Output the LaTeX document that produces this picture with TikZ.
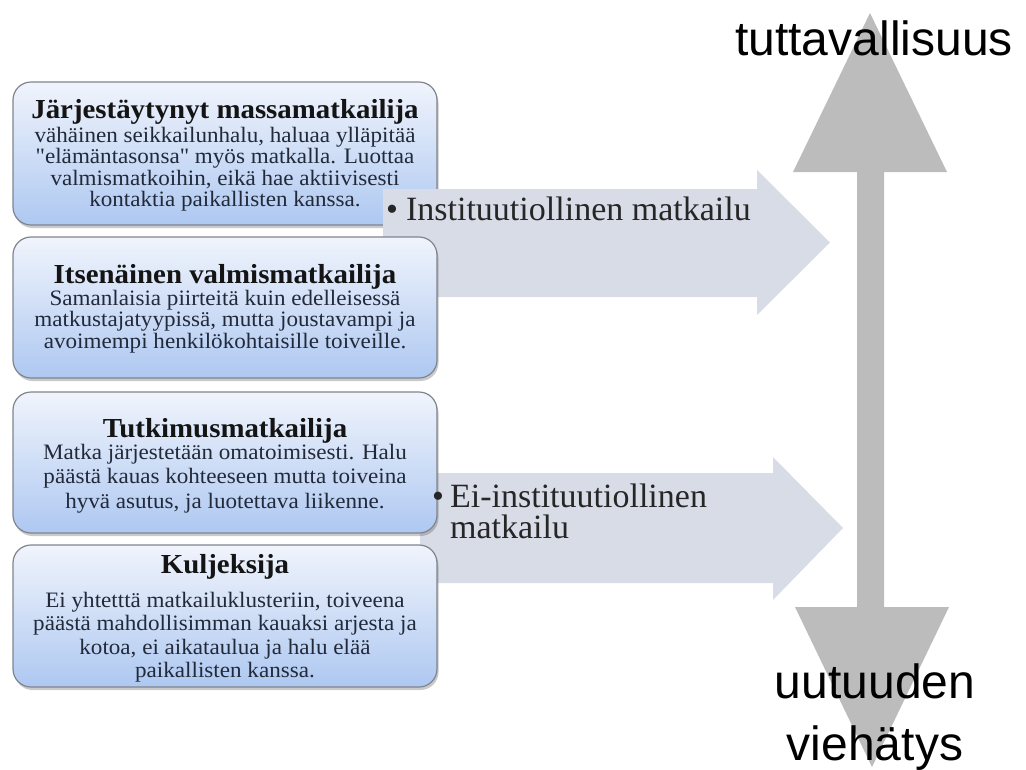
\documentclass[tikz,border=0pt]{standalone}
\usepackage{fontspec}
\setmainfont{Liberation Serif}
\newfontfamily\boxfont[FakeStretch=1.05]{Liberation Serif}
\newfontfamily\ttlfont[FakeStretch=1.05]{Liberation Serif Bold}
\newfontfamily\sansfont{Liberation Sans}
\usetikzlibrary{shadows}
\definecolor{arrowgray}{HTML}{D7DCE7}
\definecolor{vgray}{HTML}{BCBCBC}
\definecolor{boxtop}{HTML}{F0F4FC}
\definecolor{boxbot}{HTML}{AEC8F1}
\definecolor{boxborder}{HTML}{80848C}
\definecolor{bodycol}{HTML}{222A3A}
\definecolor{titlecol}{HTML}{141414}
\definecolor{lblcol}{HTML}{262626}
\newcommand{\cl}[1]{\hbox to 0pt{\hss#1\hss}}
\tikzset{
  tbox/.style={draw=boxborder, line width=1.2pt, rounded corners=18pt,
    top color=boxtop, bottom color=boxbot, minimum width=424pt, inner sep=0pt,
    drop shadow={shadow xshift=1.5pt, shadow yshift=-3pt, opacity=0.35, fill=black!60}},
  ttl/.style={anchor=base, inner sep=0pt, text=titlecol, font=\ttlfont\fontsize{27.5}{30}\selectfont},
  bdy/.style={anchor=base, inner sep=0pt, text=bodycol},
  lbl/.style={anchor=base west, inner sep=0pt, text=lblcol},
  sns/.style={anchor=base, inner sep=0pt, text=black, font=\sansfont\fontsize{48}{62}\selectfont},
  harrow/.style={fill=arrowgray},
  varrow/.style={fill=vgray}
}
\begin{document}
\begin{tikzpicture}[x=1pt,y=-1pt]
\useasboundingbox (0,0) rectangle (1026,769);
% vertical double arrow
\fill[varrow] (870,13) -- (947,172) -- (884,172) -- (884,607) -- (949,607) -- (872,767)
  -- (795,607) -- (857,607) -- (857,172) -- (793,172) -- cycle;
\node[sns] (top) at (874,55) {tuttavallisuus};
\node[sns] (bot) at (875,698) {\vtop{\cl{uutuuden}\cl{viehätys}}};

% box 1
\node[tbox, minimum height=143pt] (b1) at (225,153.5) {};
\node[ttl] (t1) at (225,118) {Järjestäytynyt massamatkailija};
\node[bdy] (d1) at (225,142) {\boxfont\fontsize{22}{21.5}\selectfont\vtop{%
  \cl{vähäinen seikkailunhalu, haluaa ylläpitää}%
  \cl{"elämäntasonsa" myös matkalla. Luottaa}%
  \cl{valmismatkoihin, eikä hae aktiivisesti}%
  \cl{kontaktia paikallisten kanssa.}}};

% arrow 1
\fill[harrow] (383,189) -- (757,189) -- (757,170) -- (830,242.5) -- (757,315) -- (757,297) -- (383,297) -- cycle;

% box 2
\node[tbox, minimum height=141pt] (b2) at (225,307.5) {};
\node[ttl] (t2) at (225,283) {Itsenäinen valmismatkailija};
\node[bdy] (d2) at (225,305) {\boxfont\fontsize{22}{21.5}\selectfont\vtop{%
  \cl{Samanlaisia piirteitä kuin edelleisessä}%
  \cl{matkustajatyypissä, mutta joustavampi ja}%
  \cl{avoimempi henkilökohtaisille toiveille.}}};

\node[lbl, font=\fontsize{34}{36}\selectfont] (l1) at (386,220) {\textbullet\hspace{8pt}Instituutiollinen matkailu};

% arrow 2
\fill[harrow] (420,473) -- (773,473) -- (773,457) -- (843,528) -- (773,600) -- (773,583) -- (420,583) -- cycle;

% box 3
\node[tbox, minimum height=141pt] (b3) at (225,462.5) {};
\node[ttl] (t3) at (225,437) {Tutkimusmatkailija};
\node[bdy] (d3) at (225,459) {\boxfont\fontsize{22}{24.5}\selectfont\vtop{%
  \cl{Matka järjestetään omatoimisesti. Halu}%
  \cl{päästä kauas kohteeseen mutta toiveina}%
  \cl{hyvä asutus, ja luotettava liikenne.}}};

% box 4
\node[tbox, minimum height=142pt] (b4) at (225,616) {};
\node[ttl] (t4) at (225,573) {Kuljeksija};
\node[bdy] (d4) at (225,607) {\boxfont\fontsize{22}{23.5}\selectfont\vtop{%
  \cl{Ei yhtetttä matkailuklusteriin, toiveena}%
  \cl{päästä mahdollisimman kauaksi arjesta ja}%
  \cl{kotoa, ei aikataulua ja halu elää}%
  \cl{paikallisten kanssa.}}};

\node[lbl, font=\fontsize{34}{31}\selectfont] (l2) at (432,507) {\vtop{%
  \hbox{\textbullet\hspace{6pt}Ei-instituutiollinen}%
  \hbox{\hphantom{\textbullet}\hspace{6pt}matkailu}}};
\end{tikzpicture}
\end{document}
